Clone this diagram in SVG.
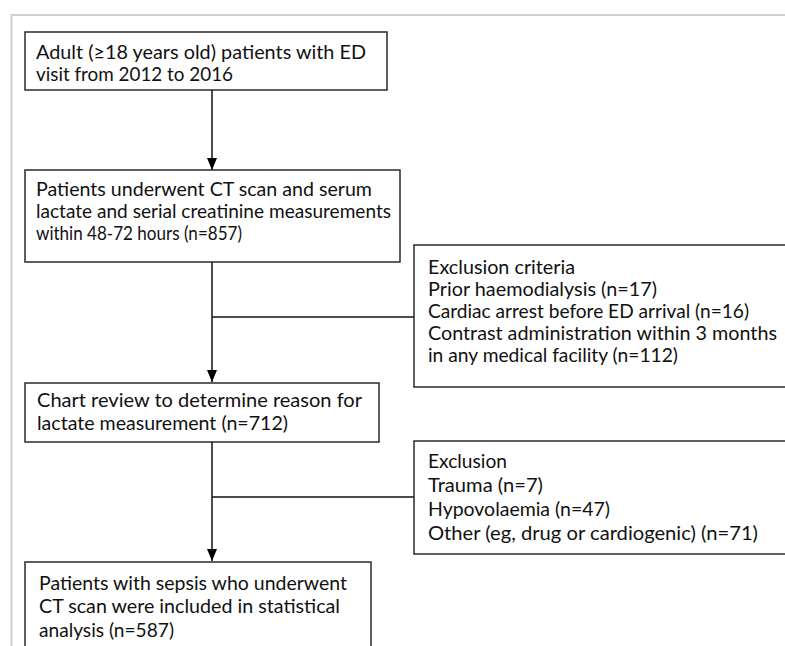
<svg xmlns="http://www.w3.org/2000/svg" width="785" height="646" viewBox="0 0 785 646">
<defs>
<marker id="arr" viewBox="0 0 12 10" refX="12" refY="5" markerWidth="12" markerHeight="10" markerUnits="userSpaceOnUse" orient="auto">
<path d="M0,0 L12,5 L0,10 Z" fill="#000"/>
</marker>
<style>
.box{fill:#fff;stroke:#2a2a2a;stroke-width:1.5}
.t{font-family:"Lato","Open Sans","Liberation Sans",sans-serif;font-size:20px;fill:#111}
.c{fill:none;stroke:#111;stroke-width:1.5}
</style>
</defs>
<rect width="785" height="646" fill="#fff"/>
<path d="M11.5,646 V15 H785" fill="none" stroke="#cfcfcf" stroke-width="2"/>
<g id="connectors">
<path class="c" d="M212,90 V170" marker-end="url(#arr)"/>
<path class="c" d="M212,262 V382" marker-end="url(#arr)"/>
<path class="c" d="M212,317 H414"/>
<path class="c" d="M212,442 V561" marker-end="url(#arr)"/>
<path class="c" d="M212,497 H414"/>
</g>
<g id="n1">
<rect class="box" x="25" y="32" width="362" height="58"/>
<text class="t" x="36" y="59" textLength="330" lengthAdjust="spacingAndGlyphs">Adult (≥18 years old) patients with ED</text>
<text class="t" x="36" y="81" textLength="197" lengthAdjust="spacingAndGlyphs">visit from 2012 to 2016</text>
</g>
<g id="n2">
<rect class="box" x="25" y="170" width="375" height="92"/>
<text class="t" x="36" y="196" textLength="336" lengthAdjust="spacingAndGlyphs">Patients underwent CT scan and serum</text>
<text class="t" x="36" y="218" textLength="355" lengthAdjust="spacingAndGlyphs">lactate and serial creatinine measurements</text>
<text class="t" x="36" y="240" textLength="206" lengthAdjust="spacingAndGlyphs">within 48-72 hours (n=857)</text>
</g>
<g id="n3">
<rect class="box" x="414" y="245" width="380" height="142"/>
<text class="t" x="428" y="274" textLength="147" lengthAdjust="spacingAndGlyphs">Exclusion criteria</text>
<text class="t" x="428" y="296" textLength="229" lengthAdjust="spacingAndGlyphs">Prior haemodialysis (n=17)</text>
<text class="t" x="428" y="318" textLength="321" lengthAdjust="spacingAndGlyphs">Cardiac arrest before ED arrival (n=16)</text>
<text class="t" x="428" y="340" textLength="349" lengthAdjust="spacingAndGlyphs">Contrast administration within 3 months</text>
<text class="t" x="428" y="362" textLength="250" lengthAdjust="spacingAndGlyphs">in any medical facility (n=112)</text>
</g>
<g id="n4">
<rect class="box" x="25" y="383" width="354" height="59"/>
<text class="t" x="37" y="407" textLength="325" lengthAdjust="spacingAndGlyphs">Chart review to determine reason for</text>
<text class="t" x="37" y="430" textLength="251" lengthAdjust="spacingAndGlyphs">lactate measurement (n=712)</text>
</g>
<g id="n5">
<rect class="box" x="414" y="441" width="380" height="113"/>
<text class="t" x="428" y="468" textLength="79" lengthAdjust="spacingAndGlyphs">Exclusion</text>
<text class="t" x="428" y="492" textLength="115" lengthAdjust="spacingAndGlyphs">Trauma (n=7)</text>
<text class="t" x="428" y="516" textLength="182" lengthAdjust="spacingAndGlyphs">Hypovolaemia (n=47)</text>
<text class="t" x="428" y="540" textLength="330" lengthAdjust="spacingAndGlyphs">Other (eg, drug or cardiogenic) (n=71)</text>
</g>
<g id="n6">
<rect class="box" x="25" y="562" width="346" height="100"/>
<text class="t" x="39" y="590" textLength="308" lengthAdjust="spacingAndGlyphs">Patients with sepsis who underwent</text>
<text class="t" x="39" y="613" textLength="301" lengthAdjust="spacingAndGlyphs">CT scan were included in statistical</text>
<text class="t" x="39" y="637" textLength="135" lengthAdjust="spacingAndGlyphs">analysis (n=587)</text>
</g>
</svg>
